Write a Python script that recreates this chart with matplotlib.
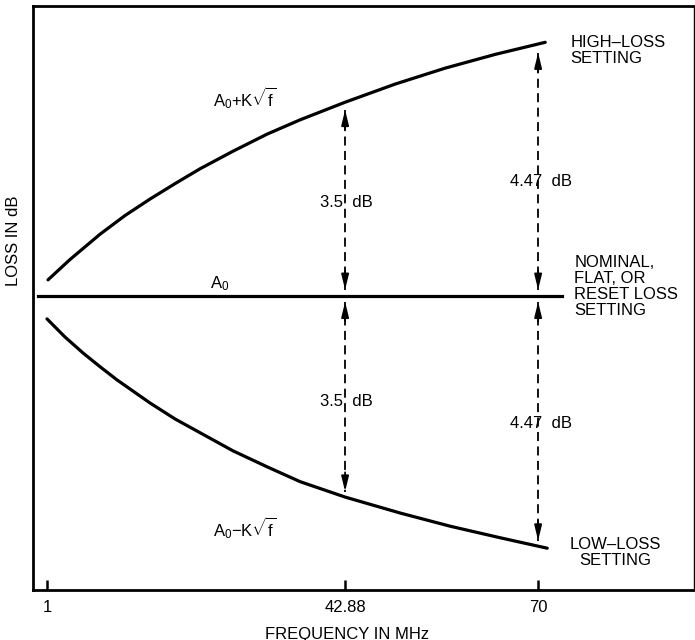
import matplotlib
matplotlib.use("Agg")
import matplotlib.pyplot as plt
import numpy as np

plt.rcParams['font.family'] = ['Liberation Sans', 'DejaVu Sans']
plt.rcParams['mathtext.fontset'] = 'custom'
plt.rcParams['mathtext.rm'] = 'Liberation Sans'
plt.rcParams['mathtext.it'] = 'Liberation Sans'

# ---- data (loss relative to A0, in dB) ----
freq_high = [1.14, 4.23, 8.45, 11.96, 15.48, 18.99, 22.50, 27.14, 31.92, 36.56,
             42.88, 49.91, 56.94, 63.97, 71.00]
loss_high = [0.29, 0.66, 1.12, 1.46, 1.76, 2.04, 2.31, 2.63, 2.94, 3.20,
             3.52, 3.85, 4.14, 4.39, 4.61]
freq_low = [1.0, 3.53, 6.06, 8.45, 10.84, 15.48, 18.99, 22.50, 27.14, 31.92,
            36.56, 42.88, 50.61, 57.64, 64.67, 71.28]
loss_low = [-0.42, -0.75, -1.04, -1.29, -1.53, -1.95, -2.24, -2.49, -2.82, -3.11,
            -3.38, -3.66, -3.95, -4.19, -4.40, -4.59]
freq_flat = [-0.26, 73.4]
loss_flat = [0.0, 0.0]

arrow_freqs = [42.88, 70]
arrow_high_ends = [3.38, 4.42]
arrow_low_ends = [-3.56, -4.45]
arrow_labels = ["3.5  dB", "4.47  dB"]

tick_values = [1, 42.88, 70]
tick_labels = ["1", "42.88", "70"]

FS = 12

fig = plt.figure(figsize=(6.95, 6.4), dpi=100)
ax = fig.add_axes([33/695, 1-590/640, (694-33)/695, (590-6)/640])
ax.set_xlim(-0.97, 91.9)
ax.set_ylim(-5.35, 5.27)

lw_curve = 2.3
ax.plot(freq_high, loss_high, color='black', lw=lw_curve, solid_capstyle='round',
        solid_joinstyle='round')
ax.plot(freq_low, loss_low, color='black', lw=lw_curve, solid_capstyle='round',
        solid_joinstyle='round')
ax.plot(freq_flat, loss_flat, color='black', lw=lw_curve)

gap = 0.11
for f, hi, lo in zip(arrow_freqs, arrow_high_ends, arrow_low_ends):
    for a, b in [(gap, hi), (-gap, lo)]:
        ax.plot([f, f], [a, b], color='black', lw=1.3, linestyle=(0, (5, 3)))
        d = np.sign(b - a) * 0.35
        for tip, back in [(a, a + d), (b, b - d)]:
            ax.annotate('', xy=(f, tip), xytext=(f, back),
                        arrowprops=dict(arrowstyle='-|>,head_length=0.9,head_width=0.22',
                                        color='black', lw=1.3,
                                        shrinkA=0, shrinkB=0))

# annotations
ax.text(43.0, 1.69, arrow_labels[0], fontsize=FS, ha='center', va='center')
ax.text(43.0, -1.93, arrow_labels[0], fontsize=FS, ha='center', va='center')
ax.text(70.4, 2.07, arrow_labels[1], fontsize=FS, ha='center', va='center')
ax.text(70.4, -2.33, arrow_labels[1], fontsize=FS, ha='center', va='center')

ax.text(28.8, 3.6, r'$\mathregular{A_0{+}K\sqrt{f}}$', fontsize=FS, ha='center', va='center')
ax.text(23.9, 0.22, r'$\mathregular{A_0}$', fontsize=FS, ha='left', va='center')
ax.text(28.8, -4.22, r'$\mathregular{A_0{-}K\sqrt{f}}$', fontsize=FS, ha='center', va='center')

ax.text(74.5, 4.75, "HIGH–LOSS\nSETTING", fontsize=FS, ha='left', va='top',
        linespacing=1.1)
ax.text(75.1, 0.75, "NOMINAL,\nFLAT, OR\nRESET LOSS\nSETTING", fontsize=FS,
        ha='left', va='top', linespacing=1.1)
ax.text(80.8, -4.67, "LOW–LOSS\nSETTING", fontsize=FS, ha='center', va='center',
        multialignment='center', linespacing=1.1)

# axes styling
for s in ['left', 'bottom', 'top']:
    ax.spines[s].set_linewidth(2.0)
ax.spines['right'].set_linewidth(1.0)
ax.set_yticks([])
ax.set_xticks(tick_values)
ax.set_xticklabels(tick_labels, fontsize=FS)
ax.tick_params(axis='x', direction='in', length=7, width=1.8, pad=7)

fig.text(347/695, 1-634/640, "FREQUENCY IN MHz", fontsize=FS, ha='center', va='center')
fig.text(14/695, 1-241/640, "LOSS IN dB", fontsize=FS, ha='center', va='center',
         rotation=90)

fig.savefig("out.png", dpi=100)
